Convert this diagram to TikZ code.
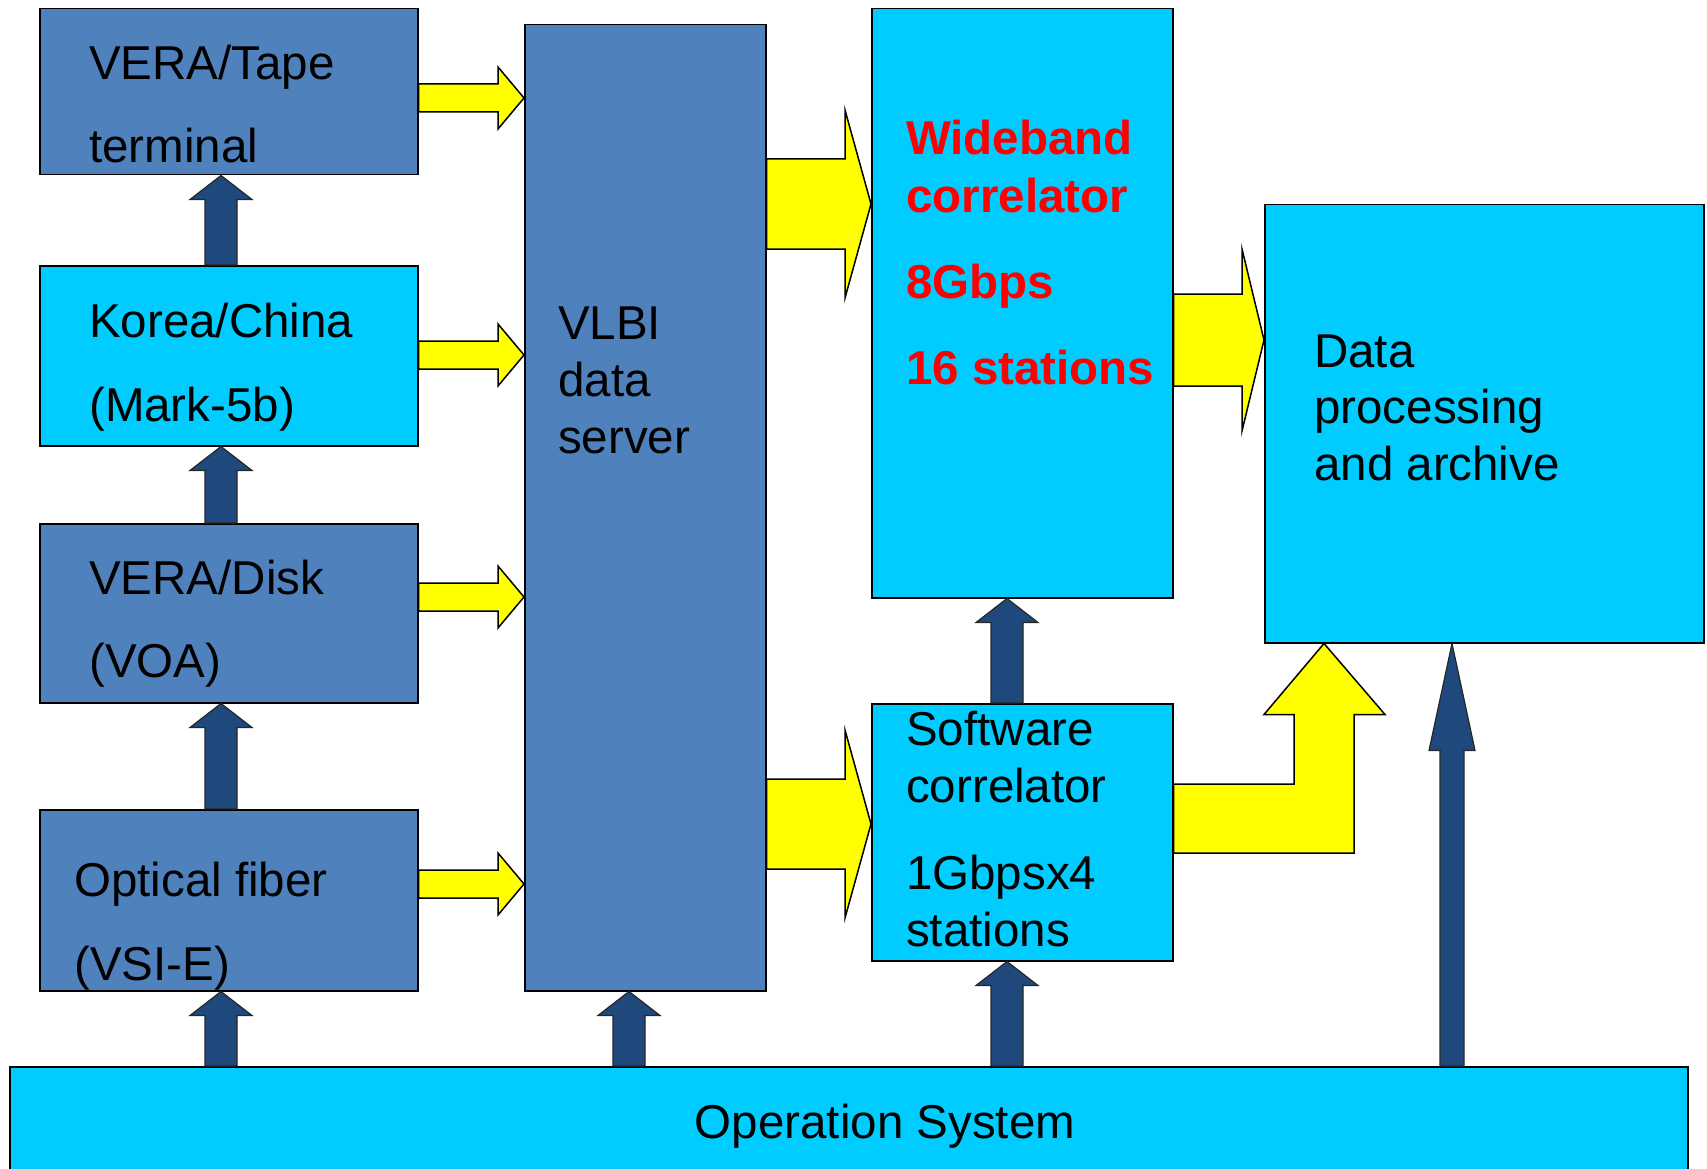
\documentclass[tikz,border=0pt]{standalone}
\usepackage{fontspec}
\setmainfont{Liberation Sans}
\usetikzlibrary{calc}
\definecolor{serverblue}{HTML}{4F81BD}
\definecolor{boxcyan}{HTML}{00CCFF}
\definecolor{arrowblue}{HTML}{1F497D}
\definecolor{flowyellow}{HTML}{FFFF00}
% block arrow: style, from, to, shaft half width, head half width, head length
\newcommand{\fatarrow}[6]{%
  \coordinate (hb) at ($(#3)!#6!(#2)$);
  \filldraw[#1] ($(#2)!#4!90:(#3)$) -- ($(hb)!#4!90:(#3)$) -- ($(hb)!#5!90:(#3)$)
    -- (#3) -- ($(hb)!#5!-90:(#3)$) -- ($(hb)!#4!-90:(#3)$) -- ($(#2)!#4!-90:(#3)$) -- cycle;
}
\tikzset{
  box/.style={draw=black, line width=1.5pt, inner sep=0pt, anchor=north west},
  dbox/.style={box, fill=serverblue},
  cbox/.style={box, fill=boxcyan},
  txt/.style={anchor=base west, inner sep=0pt, font=\fontsize{47.5}{57}\selectfont},
  redtxt/.style={txt, text=red, font=\fontsize{47.5}{57}\selectfont\bfseries},
  yarrow/.style={fill=flowyellow, draw=black, line width=1.5pt, line join=miter},
  barrow/.style={fill=arrowblue, draw=black!85, line width=1.2pt, line join=miter}
}
\begin{document}
\begin{tikzpicture}[x=1pt,y=-1pt]
			\useasboundingbox (0,0) rectangle (1707,1169);
			% boxes
			\node[dbox, minimum width=378pt, minimum height=166pt] (tape) at (39,8) {};
			\node[cbox, minimum width=378pt, minimum height=180pt] (korea) at (39,265) {};
			\node[dbox, minimum width=378pt, minimum height=179pt] (disk) at (39,523) {};
			\node[dbox, minimum width=378pt, minimum height=181pt] (fiber) at (39,809) {};
			\node[dbox, minimum width=241pt, minimum height=966pt] (server) at (524,24) {};
			\node[cbox, minimum width=301pt, minimum height=589pt] (wide) at (871,8) {};
			\node[cbox, minimum width=301pt, minimum height=257pt] (soft) at (871,703) {};
			\node[cbox, minimum width=439pt, minimum height=438pt] (data) at (1264,204) {};
			\node[cbox, minimum width=1678pt, minimum height=120pt] (ops) at (9,1066) {};
			% yellow arrows into the server
			\coordinate (t1) at ($(tape.north east)+(0,90)$);
			\coordinate (t2) at (server.west |- t1);
			\fatarrow{yarrow}{t1}{t2}{14pt}{31pt}{26pt}
			\coordinate (k2) at ($(korea.north east)+(0,90)$);
			\coordinate (k3) at (server.west |- k2);
			\fatarrow{yarrow}{k2}{k3}{14pt}{31pt}{26pt}
			\coordinate (d2) at ($(disk.north east)+(0,74)$);
			\coordinate (d3) at (server.west |- d2);
			\fatarrow{yarrow}{d2}{d3}{14pt}{31pt}{26pt}
			\coordinate (f2) at ($(fiber.north east)+(0,75)$);
			\coordinate (f3) at (server.west |- f2);
			\fatarrow{yarrow}{f2}{f3}{14pt}{31pt}{26pt}
			% yellow arrows to the correlators
			\coordinate (s2) at ($(wide.north west)+(0,196)$);
			\coordinate (s1) at (server.east |- s2);
			\fatarrow{yarrow}{s1}{s2}{45pt}{94pt}{26pt}
			\coordinate (s4) at ($(soft.north west)+(0,121)$);
			\coordinate (s3) at (server.east |- s4);
			\fatarrow{yarrow}{s3}{s4}{45pt}{94pt}{26pt}
			\coordinate (w2) at ($(data.north west)+(0,136)$);
			\coordinate (w1) at (wide.east |- w2);
			\fatarrow{yarrow}{w1}{w2}{46pt}{91pt}{22pt}
			\coordinate (e0) at ($(data.south west)+(60,0)$);
			\filldraw[yarrow] ($(soft.north east)+(0,81)$) -| ($(e0)+(-30,71)$) -- ++(-30,0) -- (e0)
			  -- ++(61,71) -- ++(-31,0) |- ($(soft.north east)+(0,150)$) -- cycle;
			% dark blue arrows
			\coordinate (k0) at ($(korea.north west)+(182,0)$);
			\coordinate (k1) at (tape.south -| k0);
			\fatarrow{barrow}{k0}{k1}{16pt}{31pt}{24pt}
			\coordinate (d0) at ($(disk.north west)+(182,0)$);
			\coordinate (d1) at (korea.south -| d0);
			\fatarrow{barrow}{d0}{d1}{16pt}{31pt}{24pt}
			\coordinate (f0) at ($(fiber.north west)+(182,0)$);
			\coordinate (f1) at (disk.south -| f0);
			\fatarrow{barrow}{f0}{f1}{16pt}{31pt}{24pt}
			\coordinate (o1) at (fiber.south -| f0);
			\coordinate (o0) at (ops.north -| f0);
			\fatarrow{barrow}{o0}{o1}{16pt}{31pt}{24pt}
			\coordinate (v1) at ($(server.south west)+(105,0)$);
			\coordinate (v0) at (ops.north -| v1);
			\fatarrow{barrow}{v0}{v1}{16pt}{31pt}{24pt}
			\coordinate (c1) at ($(soft.south west)+(136,0)$);
			\coordinate (c0) at (ops.north -| c1);
			\fatarrow{barrow}{c0}{c1}{16pt}{31pt}{24pt}
			\coordinate (c2) at (soft.north -| c1);
			\coordinate (c3) at (wide.south -| c1);
			\fatarrow{barrow}{c2}{c3}{16pt}{31pt}{24pt}
			\coordinate (a1) at ($(data.south west)+(188,0)$);
			\coordinate (a0) at (ops.north -| a1);
			\fatarrow{barrow}{a0}{a1}{12pt}{23pt}{107pt}
			% texts
			\node[txt] (tapea) at (89,80) {VERA/Tape};
			\node[txt] (tapeb) at (89,163) {terminal};
			\node[txt] (koreaa) at (89,337) {Korea/China};
			\node[txt] (koreab) at (89,421) {(Mark-5b)};
			\node[txt] (diska) at (89,594) {VERA/Disk};
			\node[txt] (diskb) at (89,677) {(VOA)};
			\node[txt] (fibera) at (74,896) {Optical fiber};
			\node[txt] (fiberb) at (74,980) {(VSI-E)};
			\node[txt] (servera) at (558,339) {VLBI};
			\node[txt] (serverb) at (558,396) {data};
			\node[txt] (serverc) at (558,453) {server};
			\node[redtxt] (widea) at (906,155) {Wideband};
			\node[redtxt] (wideb) at (906,212) {correlator};
			\node[redtxt] (widec) at (906,298) {8Gbps};
			\node[redtxt] (wided) at (906,384) {16 stations};
			\node[txt] (softa) at (906,745) {Software};
			\node[txt] (softb) at (906,802) {correlator};
			\node[txt] (softc) at (906,889) {1Gbpsx4};
			\node[txt] (softd) at (906,946) {stations};
			\node[txt] (dataa) at (1314,367) {Data};
			\node[txt] (datab) at (1314,423) {processing};
			\node[txt] (datac) at (1314,480) {and archive};
			\node[txt, anchor=base] (opsa) at (885,1138) {Operation System};
		\end{tikzpicture}
\end{document}
